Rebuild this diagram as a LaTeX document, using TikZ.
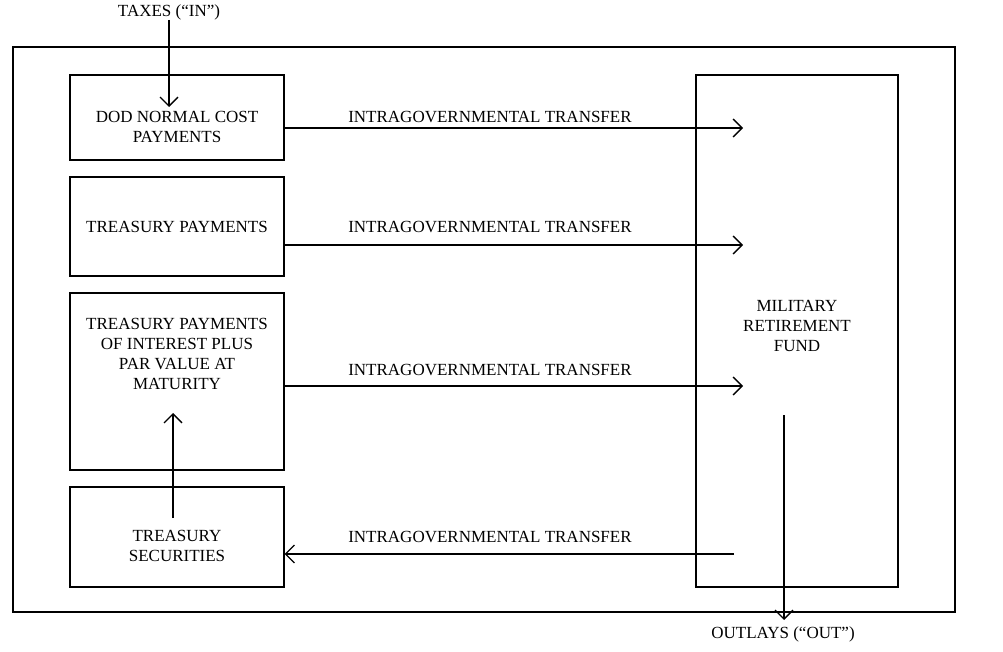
\documentclass[tikz,border=0pt]{standalone}
\usepackage{fontspec}
\setmainfont{Liberation Serif}
\usetikzlibrary{positioning,arrows.meta}
\tikzset{frame/.style={draw,line width=1.1pt,inner sep=0pt}}
\tikzset{box/.style={draw,line width=1.1pt,inner sep=0pt,minimum width=214pt}}
\tikzset{txt/.style={align=center,inner sep=0pt,font=\fontsize{17}{20}\selectfont}}
\tikzset{flow/.style={line width=1.3pt,-{Straight Barb[length=9pt,width=18pt,line width=1.3pt]}}}

\begin{document}
\begin{tikzpicture}[x=1pt,y=-1pt]
    \useasboundingbox (0,0) rectangle (1003,652);
    % outer frame and boxes
    \node[frame,minimum width=942pt,minimum height=565pt] (outer) at (484,329.5) {};
    \node[box,minimum height=85pt] (dod) at (177,117.5) {};
    \node[box,minimum height=99pt] (treas) at (177,226.5) {};
    \node[box,minimum height=177pt] (interest) at (177,381.5) {};
    \node[box,minimum height=100pt] (secur) at (177,537) {};
    \node[box,minimum width=202pt,minimum height=512pt] (fund) at (797,331) {};
    % texts
    \node[txt] (doddtxt) at (177,127) {DOD NORMAL COST\\PAYMENTS};
    \node[txt] (treastxt) at (177,227) {TREASURY PAYMENTS};
    \node[txt] (inttxt) at (177,354) {TREASURY PAYMENTS\\OF INTEREST PLUS\\PAR VALUE AT\\MATURITY};
    \node[txt] (sectxt) at (177,546) {TREASURY\\SECURITIES};
    \node[txt] (fundtxt) at (797,326) {MILITARY\\RETIREMENT\\FUND};
    \node[txt] (taxes) at (169,12) {TAXES (“IN”)};
    \node[txt] (outlays) at (783,634) {OUTLAYS (“OUT”)};
    \node[txt] (lab1) at (490,117) {INTRAGOVERNMENTAL TRANSFER};
    \node[txt] (lab2) at (490,227) {INTRAGOVERNMENTAL TRANSFER};
    \node[txt] (lab3) at (490,370) {INTRAGOVERNMENTAL TRANSFER};
    \node[txt] (lab4) at (490,537) {INTRAGOVERNMENTAL TRANSFER};
    % free ends of the connectors
    \coordinate (t1) at (743,128);
    \coordinate (t2) at (743,245);
    \coordinate (t3) at (743,386);
    \coordinate (s4) at (734,554);
    \coordinate (taxtip) at (169,107);
    \coordinate (upfoot) at (173,518);
    \coordinate (uptip) at (173,413);
    \coordinate (outtop) at (784,415);
    \coordinate (outtip) at (784,620);
    % connectors
    \draw[flow] (dod.east |- t1) -- (t1);
    \draw[flow] (treas.east |- t2) -- (t2);
    \draw[flow] (interest.east |- t3) -- (t3);
    \draw[flow] (s4) -- (secur.east |- s4);
    \draw[flow] (taxes.south -| taxtip) -- (taxtip);
    \draw[flow] (upfoot) -- (uptip);
    \draw[flow] (outtop) -- (outtip);
\end{tikzpicture}
\end{document}
